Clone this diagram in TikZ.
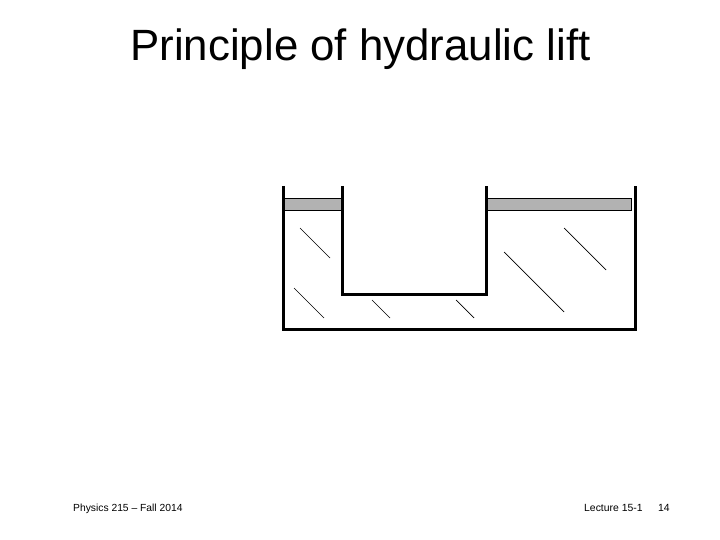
\documentclass[tikz,border=0pt]{standalone}
\usepackage{fontspec}
\setmainfont{Liberation Sans}
\tikzset{
  wall/.style={line width=3pt,line cap=butt,line join=miter},
  piston/.style={draw=black,fill=black!30,line width=1pt},
  hatchline/.style={line width=0.7pt},
  titletext/.style={anchor=base,inner sep=0pt,font=\fontsize{43.8}{48}\selectfont},
  foot/.style={anchor=base west,inner sep=0pt,font=\fontsize{10.4}{12}\selectfont},
  footsmall/.style={anchor=base west,inner sep=0pt,font=\fontsize{10.3}{12}\selectfont}
}
\begin{document}
\begin{tikzpicture}[x=1pt,y=-1pt]
\useasboundingbox (0,0) rectangle (720,540);
\fill[white] (0,0) rectangle (720,540);
\node[titletext] (title) at (360.5,61) {Principle of hydraulic lift};
% pistons
\draw[piston] (283.5,198.5) rectangle (341,210.5);
\draw[piston] (487,198.5) rectangle (631.5,210.5);
% vessel
\draw[wall] (283,186) -- (283,329) -- (635,329) -- (635,186);
\draw[wall] (342,186) -- (342,294) -- (486,294) -- (486,186);
% hatching
\draw[hatchline] (300,228) -- (330,258);
\draw[hatchline] (294,288) -- (324,318);
\draw[hatchline] (372,300) -- (390,318);
\draw[hatchline] (456,300) -- (474,318);
\draw[hatchline] (504,252) -- (564,312);
\draw[hatchline] (564,228) -- (606,270);
% footer
\node[footsmall] (fa) at (73,511.5) {Physics 215 -- Fall 2014};
\node[foot] (fb) at (584,511.5) {Lecture 15-1};
\node[foot] (fc) at (658,511.5) {14};
\end{tikzpicture}
\end{document}
